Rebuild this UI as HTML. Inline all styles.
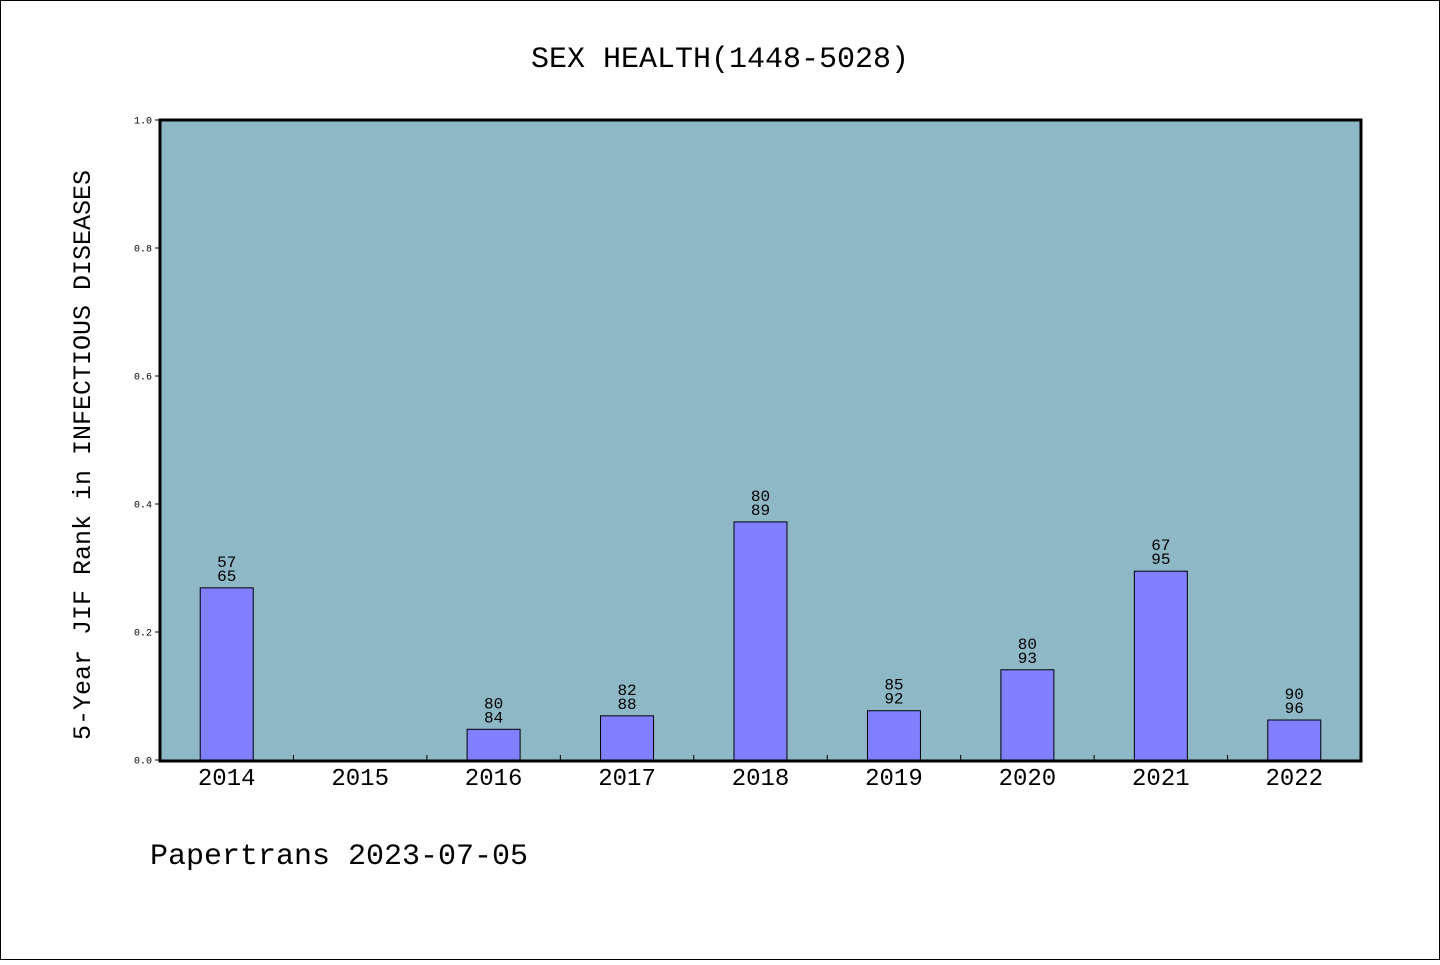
<!DOCTYPE html>
<html><head><meta charset="utf-8"><style>
body{margin:0;background:#fff}
svg text{font-family:"Liberation Mono","DejaVu Sans Mono",monospace;fill:#000}
</style></head><body>
<svg width="1440" height="960" xmlns="http://www.w3.org/2000/svg" id="chart">
<rect x="0.5" y="0.5" width="1439" height="959" fill="#fff" stroke="#000"/>
<text x="720" y="67" font-size="30" text-anchor="middle">SEX HEALTH(1448-5028)</text>
<rect x="160" y="120" width="1201" height="641" fill="#8fb8c6"/>
<g id="bars"></g>
<rect x="160" y="120" width="1201" height="641" fill="none" stroke="#000" stroke-width="3"/>
<g id="axes"></g>
<text transform="translate(90,455) rotate(-90)" font-size="25" text-anchor="middle">5-Year JIF Rank in INFECTIOUS DISEASES</text>
<text x="150" y="864" font-size="30">Papertrans 2023-07-05</text>
</svg>
<script>
const categories=["2014","2015","2016","2017","2018","2019","2020","2021","2022"];
const values=[0.269,null,0.048,0.069,0.372,0.077,0.141,0.295,0.0625];
const ranks=["57","","80","82","80","85","80","67","90"];
const totals=["65","","84","88","89","92","93","95","96"];
const yTicks=[0,0.2,0.4,0.6,0.8,1.0];
const NS="http://www.w3.org/2000/svg";
const x0=160,x1=1361,y0=760,y1=120;
const step=(x1-x0)/categories.length;
const xs=i=>x0+step*(i+0.5);
const ys=v=>y0-(y0-y1)*v;
function mk(t,a,p){const e=document.createElementNS(NS,t);for(const k in a)e.setAttribute(k,a[k]);p.appendChild(e);return e;}
const bars=document.getElementById('bars'),axes=document.getElementById('axes');
categories.forEach((c,i)=>{
  const cx=xs(i);
  if(values[i]!=null){
    const r=mk('rect',{x:cx-26.5,y:ys(values[i]),width:53,height:y0-ys(values[i]),fill:'#8080ff',stroke:'#000','stroke-width':1},bars);
    
    
    const t1=mk('text',{x:cx,y:ys(values[i])-21,'font-size':16,'text-anchor':'middle'},bars);t1.textContent=ranks[i];
    
    
    const t2=mk('text',{x:cx,y:ys(values[i])-7,'font-size':16,'text-anchor':'middle'},bars);t2.textContent=totals[i];
    
    
  }
  const lt=mk('text',{x:cx,y:785,'font-size':24,'text-anchor':'middle'},axes);lt.textContent=c;
  
  
  if(i>0){const tk=mk('line',{x1:x0+step*i,x2:x0+step*i,y1:y0,y2:y0-5,stroke:'#000'},axes);
    
    }
});
yTicks.forEach(v=>{
  const tk=mk('line',{x1:x0-5,x2:x0,y1:ys(v),y2:ys(v),stroke:'#000'},axes);
  
  
  const t=mk('text',{x:152,y:ys(v)+3.5,'font-size':10,'text-anchor':'end'},axes);t.textContent=v.toFixed(1);
  
  
});
</script>
</body></html>
